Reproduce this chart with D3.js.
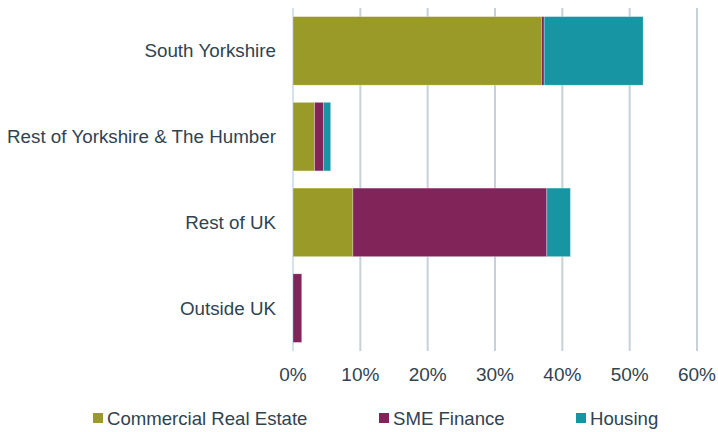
<!DOCTYPE html>
<html>
<head>
<meta charset="utf-8">
<script src="https://cdn.jsdelivr.net/npm/d3@7"></script>
<style>
  body { margin: 0; background: #fff; }
  text { font-family: "Liberation Sans", Arial, sans-serif; fill: #2f4350; }
</style>
</head>
<body>
<svg id="chart"></svg>
<script>
const regions = ['South Yorkshire', 'Rest of Yorkshire & The Humber', 'Rest of UK', 'Outside UK'];
const seriesNames = ['Commercial Real Estate', 'SME Finance', 'Housing'];
const commercialRealEstate = [36.9, 3.2, 8.9, 0];
const smeFinance = [0.4, 1.3, 28.8, 1.3];
const housing = [14.7, 1.1, 3.5, 0];
const xTicks = [0, 10, 20, 30, 40, 50, 60];
const colors = ['#9a9a28', '#80245a', '#1795a3'];

const width = 718;
const height = 432;
const margin = { top: 8, right: 21, bottom: 81, left: 293 };

const svg = d3.select('#chart')
  .attr('width', width)
  .attr('height', height);

const g = svg.append('g')
  .attr('transform', `translate(${margin.left},${margin.top})`);

const innerW = width - margin.left - margin.right;
const innerH = height - margin.top - margin.bottom;

const x = d3.scaleLinear().domain([0, 60]).range([0, innerW]);
const y = d3.scaleBand().domain(regions).range([0, innerH]).paddingInner(0.2).paddingOuter(0.1);

const rows = regions.map((r, i) => ({
  region: r,
  'Commercial Real Estate': commercialRealEstate[i],
  'SME Finance': smeFinance[i],
  'Housing': housing[i]
}));
const stacked = d3.stack().keys(seriesNames)(rows);

// gridlines
g.append('g')
  .selectAll('line')
  .data(xTicks)
  .join('line')
  .attr('x1', d => x(d)).attr('x2', d => x(d))
  .attr('y1', 0).attr('y2', innerH)
  .attr('stroke', d => d === 0 ? '#d3e2ee' : '#c6d1da')
  .attr('stroke-width', 2);

// bars
g.append('g')
  .selectAll('g')
  .data(stacked)
  .join('g')
  .attr('fill', (d, i) => colors[i])
  .selectAll('rect')
  .data(d => d.filter(p => p[1] - p[0] > 0))
  .join('rect')
  .attr('x', d => x(d[0]))
  .attr('width', d => x(d[1]) - x(d[0]))
  .attr('y', d => y(d.data.region))
  .attr('height', y.bandwidth())
  .attr('stroke', '#ffffff')
  .attr('stroke-opacity', 0.5)
  .attr('stroke-width', 0.6);

// x labels
g.append('g')
  .selectAll('text')
  .data(xTicks)
  .join('text')
  .attr('x', d => x(d))
  .attr('y', innerH + 30)
  .attr('text-anchor', 'middle')
  .style('font-size', '19px')
  .text(d => d + '%');

// category labels
g.append('g')
  .selectAll('text')
  .data(regions)
  .join('text')
  .attr('x', -17)
  .attr('y', d => y(d) + y.bandwidth() / 2)
  .attr('dy', '0.35em')
  .attr('text-anchor', 'end')
  .style('font-size', '18.8px')
  .text(d => d);

// legend
const legendX = [93, 379, 576];
const legend = svg.append('g')
  .selectAll('g')
  .data(seriesNames)
  .join('g')
  .attr('transform', (d, i) => `translate(${legendX[i]},418)`);

legend.append('rect')
  .attr('x', 0).attr('y', -5)
  .attr('width', 10).attr('height', 10)
  .attr('fill', (d, i) => colors[i]);

legend.append('text')
  .attr('x', 14)
  .attr('y', 0)
  .attr('dy', '0.35em')
  .style('font-size', '18.6px')
  .text(d => d);
</script>
</body>
</html>
